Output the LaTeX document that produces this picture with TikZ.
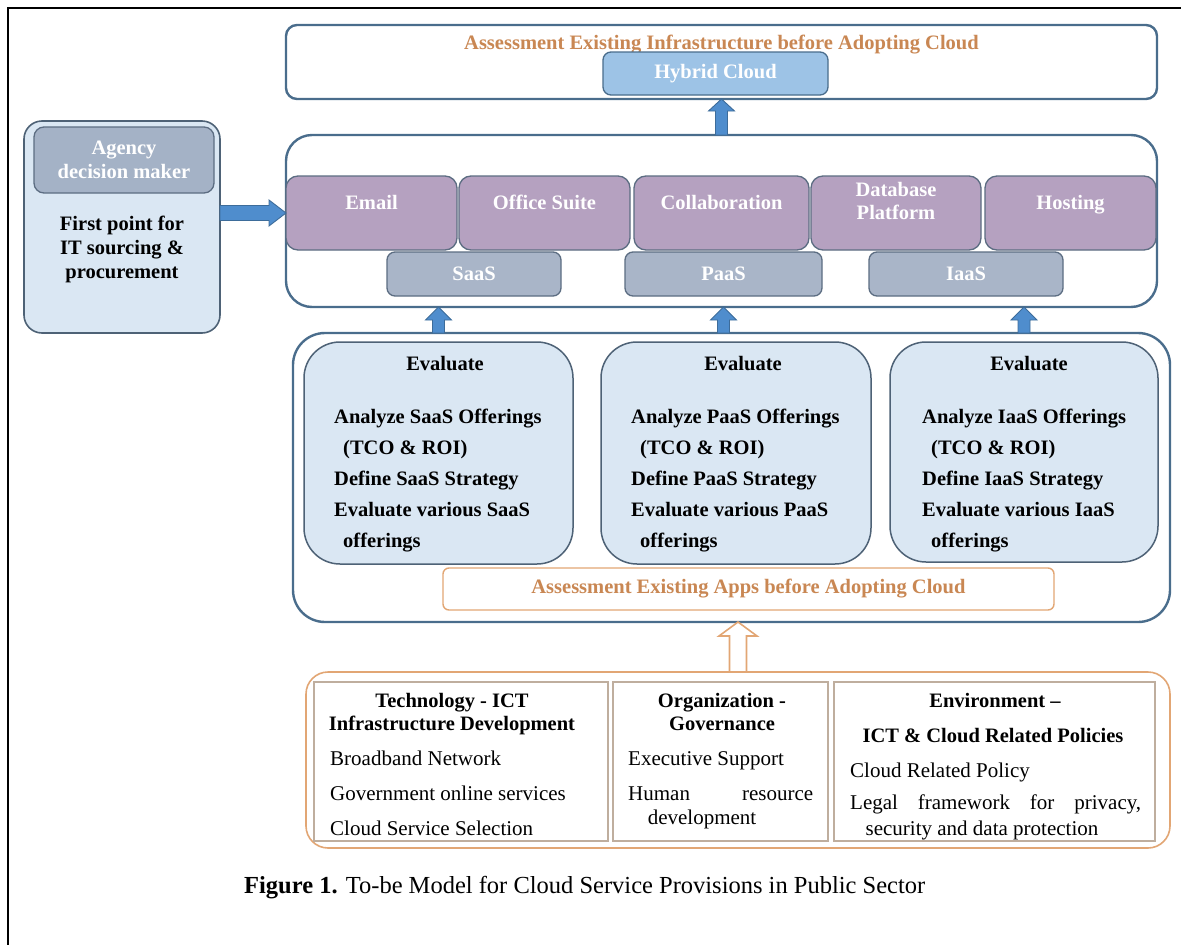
\documentclass[tikz,border=0pt]{standalone}
\usepackage{fontspec}
\setmainfont{Liberation Serif}
\usetikzlibrary{calc}

\definecolor{frameblue}{HTML}{4A6D8C}
\definecolor{evalline}{HTML}{4E6276}
\definecolor{evalfill}{HTML}{DAE7F3}
\definecolor{svcfill}{HTML}{B5A1C0}
\definecolor{svcline}{HTML}{5C6D82}
\definecolor{layerfill}{HTML}{A9B5C8}
\definecolor{hybfill}{HTML}{9DC3E6}
\definecolor{hdrfill}{HTML}{A4B2C6}
\definecolor{arrowblue}{HTML}{4F8DCD}
\definecolor{arrowedge}{HTML}{3D6C9A}
\definecolor{orangeline}{HTML}{E2A674}
\definecolor{orangetext}{HTML}{C98753}
\definecolor{colline}{HTML}{BFAE9E}

% rectangle node given by its top-left and bottom-right corners
\newcommand\mkbox[7]{%
  \pgfmathsetmacro\bw{#5-#3}%
  \pgfmathsetmacro\bh{#6-#4}%
  \node[#2, anchor=north west, inner sep=0pt, outer sep=0pt,
        minimum width=\bw pt, minimum height=\bh pt] (#1) at (#3,#4) {#7};%
}

% block arrow: style, tip, base, shaft half width, head half width, head length
\newcommand\blockarrow[6]{%
  \coordinate (ba-t) at #2;
  \coordinate (ba-b) at #3;
  \coordinate (ba-h) at ($(ba-t)!#6!(ba-b)$);
  \draw[#1] (ba-t) -- ($(ba-h)!#5!90:(ba-b)$) -- ($(ba-h)!#4!90:(ba-b)$)
    -- ($(ba-b)!#4!-90:(ba-t)$) -- ($(ba-b)!#4!90:(ba-t)$)
    -- ($(ba-h)!#4!-90:(ba-b)$) -- ($(ba-h)!#5!-90:(ba-b)$) -- cycle;
}

\begin{document}
\begin{tikzpicture}[x=1pt,y=-1pt,
  bigbox/.style={draw=frameblue, line width=2.4pt, fill=white},
  agencybox/.style={draw=evalline, line width=1.6pt, fill=evalfill, rounded corners=18pt},
  hdrbox/.style={draw=svcline, line width=1.3pt, fill=hdrfill, rounded corners=10pt},
  svcbox/.style={draw=svcline, line width=1.3pt, fill=svcfill, rounded corners=12pt},
  layerbox/.style={draw=svcline, line width=1.3pt, fill=layerfill, rounded corners=8pt},
  hybbox/.style={draw=frameblue, line width=1.3pt, fill=hybfill, rounded corners=8pt},
  evalbox/.style={draw=evalline, line width=1.5pt, fill=evalfill, rounded corners=36pt},
  appsbox/.style={draw=orangeline, line width=1.4pt, fill=white, rounded corners=6pt},
  factorbox/.style={draw=orangeline, line width=1.6pt, fill=white, rounded corners=22pt},
  colbox/.style={draw=colline, line width=1.1pt, fill=white},
  lbl/.style={font=\fontsize{20.5}{24}\selectfont\bfseries, inner sep=0pt},
  whitelbl/.style={lbl, text=white},
  orangelbl/.style={lbl, text=orangetext},
  evaltext/.style={font=\fontsize{20.5}{31}\selectfont\bfseries, inner sep=0pt, align=left, anchor=west},
  hdr/.style={font=\fontsize{20.5}{24}\selectfont\bfseries, inner sep=0pt, anchor=base},
  item/.style={font=\fontsize{21}{24}\selectfont, inner sep=0pt, anchor=base west},
  bluearrow/.style={fill=arrowblue, draw=arrowedge, line width=0.9pt},
  hollowarrow/.style={fill=white, draw=orangeline, line width=1.6pt, line join=miter}
]
\useasboundingbox (0,0) rectangle (1181,945);

% page frame (top and left rules)
\draw[line width=2.4pt, black] (8,945) -- (8,8) -- (1181,8);

% infrastructure layer
\mkbox{infra}{bigbox, rounded corners=11pt}{286}{25}{1157}{99}{}
\node[orangelbl, anchor=base] (infratitle) at (721.5,49) {Assessment Existing Infrastructure before Adopting Cloud};
\mkbox{hybrid}{hybbox, whitelbl}{603}{52}{828}{95}{Hybrid Cloud}

% service layer
\mkbox{services}{bigbox, rounded corners=26pt}{286}{135}{1157}{307}{}
\mkbox{email}{svcbox}{286}{176}{457}{250}{}
\mkbox{office}{svcbox}{459}{176}{630}{250}{}
\mkbox{collab}{svcbox}{634}{176}{809}{250}{}
\mkbox{dbase}{svcbox}{811}{176}{981}{250}{}
\mkbox{hosting}{svcbox}{985}{176}{1156}{250}{}
\node[whitelbl, anchor=base] (emailtxt) at (371.5,209) {Email};
\node[whitelbl, anchor=base] (officetxt) at (544.5,209) {Office Suite};
\node[whitelbl, anchor=base] (collabtxt) at (721.5,209) {Collaboration};
\node[whitelbl, anchor=base] (dbtxta) at (896,196) {Database};
\node[whitelbl, anchor=base] (dbtxtb) at (896,219) {Platform};
\node[whitelbl, anchor=base] (hosttxt) at (1070.5,209) {Hosting};
\mkbox{saas}{layerbox, whitelbl}{387}{252}{561}{296}{SaaS}
\mkbox{paas}{layerbox, whitelbl}{625}{252}{822}{296}{PaaS}
\mkbox{iaas}{layerbox, whitelbl}{869}{252}{1063}{296}{IaaS}

% agency decision maker
\mkbox{agency}{agencybox}{24}{121}{220}{333}{}
\mkbox{agencyhdr}{hdrbox, whitelbl, align=center}{34}{127}{214}{193}{Agency\\decision maker}
\node[lbl, align=center] (agencytxt) at (122,249) {First point for\\IT sourcing \&\\procurement};

% evaluation layer
\mkbox{evalouter}{bigbox, rounded corners=32pt}{293}{333}{1170}{622}{}
\mkbox{evsaas}{evalbox}{304}{342}{573}{564}{}
\mkbox{evpaas}{evalbox}{601}{342}{871}{564}{}
\mkbox{eviaas}{evalbox}{890}{342}{1158}{562}{}
\node[lbl, anchor=base] (evsaashd) at (445,370) {Evaluate};
\node[lbl, anchor=base] (evpaashd) at (743,370) {Evaluate};
\node[lbl, anchor=base] (eviaashd) at (1029,370) {Evaluate};
\node[evaltext] (evsaastxt) at (334,481) {Analyze SaaS Offerings\\\hspace*{9pt}(TCO \& ROI)\\Define SaaS Strategy\\Evaluate various SaaS\\\hspace*{9pt}offerings};
\node[evaltext] (evpaastxt) at (631,481) {Analyze PaaS Offerings\\\hspace*{9pt}(TCO \& ROI)\\Define PaaS Strategy\\Evaluate various PaaS\\\hspace*{9pt}offerings};
\node[evaltext] (eviaastxt) at (922,481) {Analyze IaaS Offerings\\\hspace*{9pt}(TCO \& ROI)\\Define IaaS Strategy\\Evaluate various IaaS\\\hspace*{9pt}offerings};
\mkbox{apps}{appsbox, orangelbl}{443}{568}{1054}{610}{Assessment Existing Apps before Adopting Cloud}

% adoption factors
\mkbox{factors}{factorbox}{306}{672}{1170}{848}{}
\mkbox{techcol}{colbox}{314}{682}{608}{841}{}
\mkbox{orgcol}{colbox}{613}{682}{828}{841}{}
\mkbox{envcol}{colbox}{834}{682}{1155}{841}{}

\node[hdr] (techa) at (452,707) {Technology - ICT};
\node[hdr] (techb) at (452,730) {Infrastructure Development};
\node[item] (tech1) at (330,765) {Broadband Network};
\node[item] (tech2) at (330,800) {Government online services};
\node[item] (tech3) at (330,835) {Cloud Service Selection};

\node[hdr] (orga) at (722,707) {Organization -};
\node[hdr] (orgb) at (722,730) {Governance};
\node[item] (org1) at (628,765) {Executive Support};
\node[item] (org2) at (628,800) {\makebox[185pt][s]{Human resource}};
\node[item, anchor=base] (org3) at (702,824) {development};

\node[hdr] (enva) at (995,707) {Environment \textendash};
\node[hdr] (envb) at (993,742) {ICT \& Cloud Related Policies};
\node[item] (env1) at (850,777) {Cloud Related Policy};
\node[item] (env2) at (850,809) {\makebox[291pt][s]{Legal framework for privacy,}};
\node[item, anchor=base] (env3) at (982,835) {security and data protection};

% connectors
\blockarrow{bluearrow}{(email.west)}{(agency.east |- email.west)}{7.5pt}{13pt}{17pt}
\blockarrow{bluearrow}{(infra.south)}{(services.north)}{6pt}{13pt}{12pt}
\blockarrow{bluearrow}{(evsaas.north |- services.south)}{(evsaas.north |- evalouter.north)}{6pt}{13pt}{13pt}
\blockarrow{bluearrow}{(paas.south |- services.south)}{(paas.south |- evalouter.north)}{6pt}{13pt}{13pt}
\blockarrow{bluearrow}{(eviaas.north |- services.south)}{(eviaas.north |- evalouter.north)}{6pt}{13pt}{13pt}
\blockarrow{hollowarrow}{(factors.north |- evalouter.south)}{(factors.north)}{8.5pt}{19pt}{14pt}

% caption
\node[anchor=base west, inner sep=0pt, font=\fontsize{24.5}{28}\selectfont] (caption) at (244,893)
  {\textbf{Figure 1.} To-be Model for Cloud Service Provisions in Public Sector};
\end{tikzpicture}
\end{document}
